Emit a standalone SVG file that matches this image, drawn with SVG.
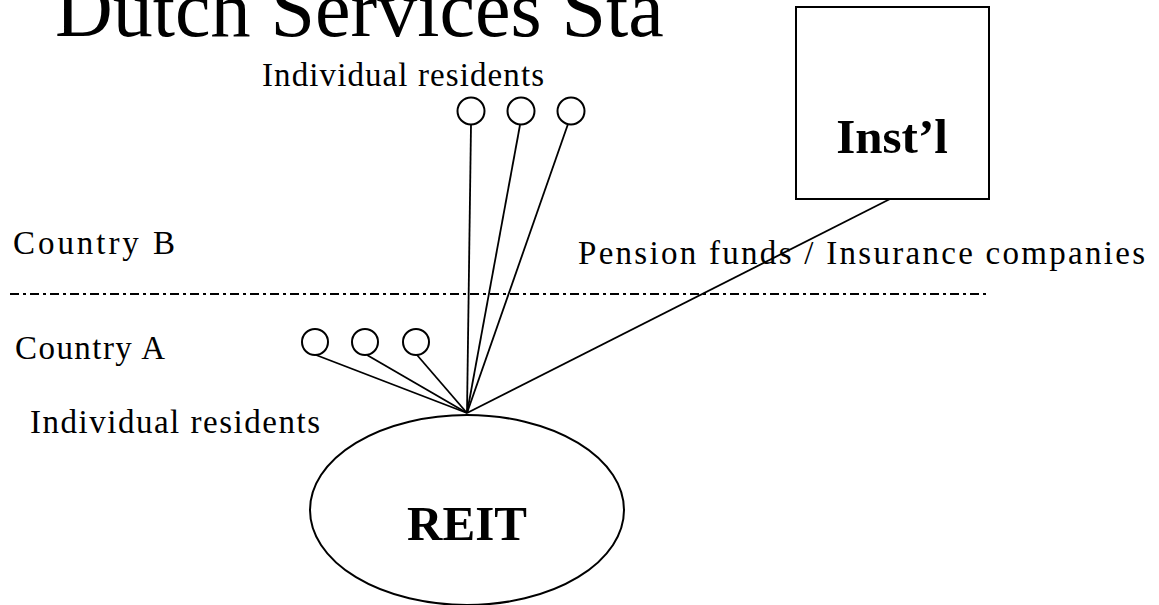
<svg xmlns="http://www.w3.org/2000/svg" width="1159" height="605" viewBox="0 0 1159 605">
<style>
text{font-family:"Liberation Serif","Times New Roman",serif;fill:#000}
.lbl{font-size:33px}
.bold{font-size:49px;font-weight:bold}
.shape{fill:#fff;stroke:#000;stroke-width:2}
.conn line{stroke:#000;stroke-width:1.8}
</style>
<rect width="1159" height="605" fill="#fff"/>
<text x="55" y="36" style="font-size:80px">Dutch Services Sta</text>
<text class="lbl" x="262" y="86" textLength="282" lengthAdjust="spacing">Individual  residents</text>
<text class="lbl" x="13" y="254" textLength="162" lengthAdjust="spacing">Country  B</text>
<text class="lbl" x="15" y="359" textLength="150" lengthAdjust="spacing">Country A</text>
<text class="lbl" x="30" y="433" textLength="290" lengthAdjust="spacing">Individual  residents</text>
<text class="lbl" x="578" y="264" textLength="567" lengthAdjust="spacing">Pension funds / Insurance companies</text>
<line x1="10" y1="294" x2="990" y2="294" stroke="#000" stroke-width="1.8" stroke-dasharray="9,4,3,4"/>
<g class="conn" id="connectors">
<line x1="471" y1="125" x2="467" y2="413"/>
<line x1="520" y1="125" x2="467" y2="413"/>
<line x1="568" y1="124" x2="467" y2="413"/>
<line x1="316" y1="355" x2="467" y2="413"/>
<line x1="367" y1="355" x2="467" y2="413"/>
<line x1="417" y1="355" x2="467" y2="413"/>
<line x1="890" y1="199" x2="467" y2="413"/>
</g>
<g id="res-b1"><circle class="shape" cx="471" cy="111" r="13.5"/></g>
<g id="res-b2"><circle class="shape" cx="521" cy="111" r="13.5"/></g>
<g id="res-b3"><circle class="shape" cx="571" cy="111" r="13.5"/></g>
<g id="res-a1"><circle class="shape" cx="315" cy="342" r="13"/></g>
<g id="res-a2"><circle class="shape" cx="365" cy="342" r="13"/></g>
<g id="res-a3"><circle class="shape" cx="416" cy="342" r="13"/></g>
<g id="inst"><rect class="shape" x="796" y="7" width="193" height="192"/><text class="bold" x="892" y="153" text-anchor="middle">Inst’l</text></g>
<g id="reit"><ellipse class="shape" cx="467" cy="510" rx="157" ry="95"/><text class="bold" x="467" y="540" text-anchor="middle">REIT</text></g>
</svg>
